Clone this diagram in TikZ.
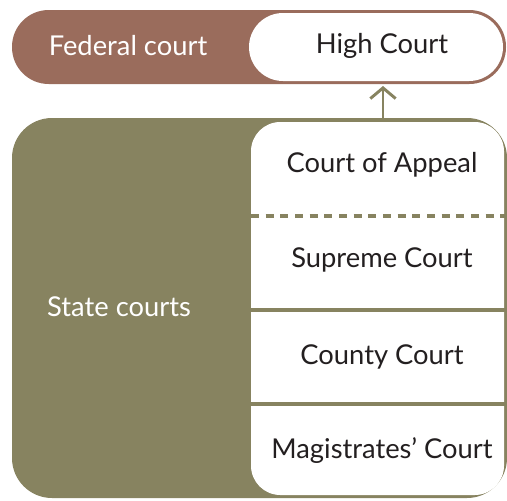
\documentclass[tikz,border=0pt]{standalone}
\usepackage{fontspec}
\setmainfont{Lato}
\usetikzlibrary{arrows.meta}
\definecolor{fedbrown}{HTML}{9A6C5C}
\definecolor{stateolive}{HTML}{878360}
\definecolor{ink}{HTML}{231F20}
\tikzset{
  court/.style={text=ink, font=\fontsize{20.5}{22}\selectfont, inner sep=0pt},
  group/.style={text=white, font=\fontsize{20.5}{22}\selectfont, inner sep=0pt},
  divider/.style={draw=stateolive, line width=2.4pt},
  uplink/.style={draw=stateolive, line width=2.2pt, -{Straight Barb[length=8pt,width=19pt,line width=2.2pt]}}
}
\begin{document}
\begin{tikzpicture}[x=0.75pt, y=-0.75pt]
  \useasboundingbox (0,0) rectangle (507,500);
  % federal level
  \fill[fedbrown, rounded corners=27.5pt] (12,10) rectangle (506,84);
  \fill[white, rounded corners=25.5pt] (249,13) rectangle (503,81);
  % state level
  \fill[stateolive, rounded corners=30pt] (12,118) rectangle (507,498);
  \fill[white, rounded corners=22pt] (251,122) rectangle (504,495);
  % dividers between state courts
  \draw[divider, dash pattern=on 6pt off 5pt] (251,216) -- (507,216);
  \draw[divider] (251,310) -- (507,310);
  \draw[divider] (251,404) -- (507,404);
  % labels
  \node[group] (federal) at (128,46) {Federal court};
  \node[court] (high) at (382,46) {High Court};
  \node[group] (state) at (119,307) {State courts};
  \node[court] (appeal) at (382,165) {Court of Appeal};
  \node[court] (supreme) at (382,260) {Supreme Court};
  \node[court] (county) at (382,357) {County Court};
  \node[court] (magistrates) at (382,451) {Magistrates’ Court};
  \coordinate (statetop) at (383,120);
  \coordinate (fedbottom) at (383,86);
  \draw[uplink] (statetop) -- (fedbottom);
\end{tikzpicture}
\end{document}
